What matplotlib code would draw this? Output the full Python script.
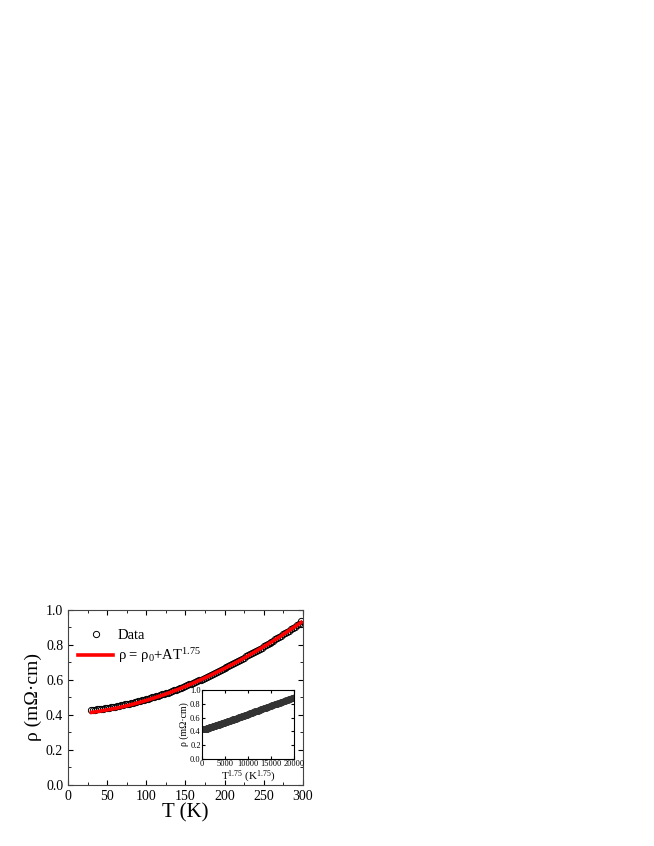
import matplotlib
matplotlib.use("Agg")
import matplotlib.pyplot as plt
import numpy as np

plt.rcParams["font.family"] = ["Liberation Serif", "DejaVu Serif"]
plt.rcParams["mathtext.fontset"] = "custom"
plt.rcParams["mathtext.rm"] = "Liberation Serif"
plt.rcParams["mathtext.it"] = "Liberation Serif:italic"

T_data = [30, 32.5, 35, 37.5, 40, 42.5, 45, 47.5, 50, 52.5, 55, 57.5, 60,
          62.5, 65, 67.5, 70, 72.5, 75, 77.5, 80, 82.5, 85, 87.5, 90, 92.5,
          95, 97.5, 100, 102.5, 105, 107.5, 110, 112.5, 115, 117.5, 120,
          122.5, 125, 127.5, 130, 132.5, 135, 137.5, 140, 142.5, 145, 147.5,
          150, 152.5, 155, 157.5, 160, 162.5, 165, 167.5, 170, 172.5, 175,
          177.5, 180, 182.5, 185, 187.5, 190, 192.5, 195, 197.5, 200, 202.5,
          205, 207.5, 210, 212.5, 215, 217.5, 220, 222.5, 225, 227.5, 230,
          232.5, 235, 237.5, 240, 242.5, 245, 247.5, 250, 252.5, 255, 257.5,
          260, 262.5, 265, 267.5, 270, 272.5, 275, 277.5, 280, 282.5, 285,
          287.5, 290, 292.5, 295, 297.5, 298]
rho_data = [0.430, 0.430, 0.431, 0.432, 0.433, 0.434, 0.436, 0.437, 0.439,
            0.441, 0.443, 0.445, 0.447, 0.450, 0.452, 0.455, 0.457, 0.460,
            0.462, 0.465, 0.467, 0.470, 0.473, 0.475, 0.478, 0.481, 0.484,
            0.487, 0.490, 0.493, 0.496, 0.500, 0.503, 0.506, 0.510, 0.513,
            0.517, 0.520, 0.524, 0.528, 0.532, 0.536, 0.540, 0.544, 0.548,
            0.552, 0.556, 0.561, 0.565, 0.569, 0.574, 0.578, 0.583, 0.587,
            0.592, 0.597, 0.602, 0.607, 0.612, 0.617, 0.623, 0.628, 0.634,
            0.639, 0.645, 0.650, 0.656, 0.662, 0.668, 0.673, 0.679, 0.685,
            0.691, 0.697, 0.703, 0.709, 0.715, 0.721, 0.727, 0.734, 0.740,
            0.746, 0.752, 0.759, 0.765, 0.772, 0.778, 0.785, 0.791, 0.798,
            0.804, 0.811, 0.818, 0.825, 0.832, 0.839, 0.846, 0.853, 0.860,
            0.867, 0.875, 0.882, 0.890, 0.897, 0.905, 0.913, 0.922, 0.935,
            0.918]

# fit curve rho = rho0 + A*T^1.75
T_fit = [30, 40, 50, 60, 70, 80, 90, 100, 110, 120, 130, 140, 150, 160,
         170, 180, 190, 200, 210, 220, 230, 240, 250, 260, 270, 280, 290, 298]
rho_fit = [0.415, 0.421, 0.429, 0.437, 0.447, 0.458, 0.470, 0.483, 0.497,
           0.512, 0.528, 0.545, 0.563, 0.582, 0.602, 0.622, 0.644, 0.666,
           0.689, 0.713, 0.738, 0.764, 0.790, 0.817, 0.845, 0.875, 0.905, 0.929]

fig = plt.figure(figsize=(6.54, 8.46), dpi=100)
ax = fig.add_axes([0.104, 0.0721, 0.359, 0.207])

ax.plot(T_data, rho_data, "o", mfc="none", mec="black", ms=4.5, mew=0.7,
        label="Data")
ax.plot(T_fit, rho_fit, "-", color="red", lw=2.6,
        label=r"ρ = ρ$_0$+AT$^{1.75}$")

ax.set_xlim(0, 300)
ax.set_ylim(0.0, 1.0)
ax.set_xticks([0, 50, 100, 150, 200, 250, 300])
ax.set_yticks([0.0, 0.2, 0.4, 0.6, 0.8, 1.0])
ax.set_xticks(np.arange(25, 300, 50), minor=True)
ax.set_yticks(np.arange(0.1, 1.0, 0.2), minor=True)
ax.tick_params(which="both", direction="in", top=True, right=True,
               labelsize=10)
ax.tick_params(which="major", length=3.5)
ax.tick_params(which="minor", length=2)
ax.set_xlabel("T (K)", fontsize=15, labelpad=0)
ax.set_ylabel("ρ (mΩ·cm)", fontsize=14, labelpad=3)
for s in ax.spines.values():
    s.set_color("#444444")

ax.legend(loc="upper left", bbox_to_anchor=(0.0, 0.95), frameon=False,
          fontsize=10.5, handlelength=2.4, handletextpad=0.3,
          labelspacing=0.3, borderaxespad=0.3)

# inset: rho vs T^1.75
ins = fig.add_axes([0.309, 0.1028, 0.141, 0.0816])
x_ins = np.array(T_data) ** 1.75
ins.plot(x_ins, rho_data, "o", mfc="none", mec="#333333", ms=3.5, mew=1.5,
         clip_on=True)
ins.set_xlim(0, 20000)
ins.set_ylim(0.0, 1.0)
ins.set_xticks([0, 5000, 10000, 15000, 20000])
ins.set_yticks([0.0, 0.2, 0.4, 0.6, 0.8, 1.0])
ins.tick_params(direction="in", top=True, right=True, labelsize=6,
                length=2, pad=1)
ins.set_xlabel(r"T$^{1.75}$ (K$^{1.75}$)", fontsize=8, labelpad=0)
ins.set_ylabel("ρ (mΩ·cm)", fontsize=7, labelpad=1)

fig.savefig("out.png", dpi=100)
